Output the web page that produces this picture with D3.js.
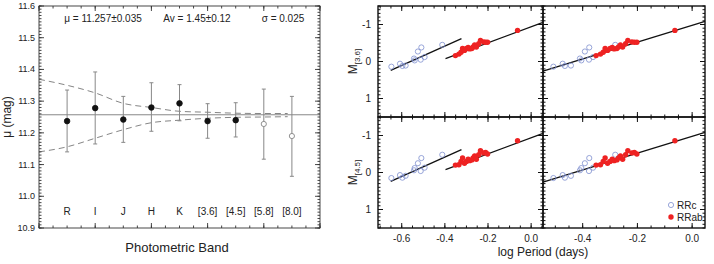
<!DOCTYPE html>
<html>
<head>
<meta charset="utf-8">
<script src="https://cdn.jsdelivr.net/npm/d3@7"></script>
<style>
  body { margin: 0; background: #fff; }
  text { font-family: "Liberation Sans", Arial, sans-serif; fill: #222; }
</style>
</head>
<body>
<div id="chart"></div>
<script>
// left panel: distance modulus per band
var bands = ["R", "I", "J", "H", "K", "[3.6]", "[4.5]", "[5.8]", "[8.0]"];
var muValues = [11.237, 11.278, 11.242, 11.280, 11.293, 11.237, 11.240, 11.228, 11.190];
var muLow = [11.140, 11.165, 11.170, 11.205, 11.238, 11.183, 11.187, 11.117, 11.063];
var muHigh = [11.335, 11.392, 11.315, 11.358, 11.352, 11.292, 11.295, 11.338, 11.315];
var muOpen = [false, false, false, false, false, false, false, true, true];
var muMean = 11.257;
var envX = [0, 1, 2, 3, 4, 5, 6, 7, 8, 8.85];
var envUpper = [11.369, 11.350, 11.326, 11.293, 11.280, 11.268, 11.265, 11.262, 11.261, 11.261];
var envLower = [11.140, 11.156, 11.183, 11.210, 11.232, 11.240, 11.246, 11.249, 11.250, 11.251];
var headerTexts = ["μ = 11.257±0.035", "Av = 1.45±0.12", "σ = 0.025"];

// right panels: PL relations
var rrcLogP = [-0.648, -0.608, -0.597, -0.582, -0.543, -0.540, -0.525, -0.509, -0.512, -0.494, -0.412];
var rrcLogPF = [-0.507, -0.473, -0.465, -0.443, -0.410, -0.405, -0.392, -0.376, -0.377, -0.362, -0.281];
var rrcM36 = [0.14, 0.06, 0.12, 0.11, -0.08, -0.03, -0.27, -0.38, -0.05, -0.12, -0.45];
var rrcM45 = [0.15, 0.07, 0.14, 0.09, -0.06, -0.12, -0.25, -0.39, -0.04, -0.13, -0.48];
var rrabLogP = [-0.351, -0.335, -0.325, -0.318, -0.309, -0.300, -0.292, -0.285, -0.275, -0.269,
                -0.262, -0.254, -0.243, -0.235, -0.220, -0.211, -0.202, -0.063];
var rrabM36 = [-0.16, -0.20, -0.25, -0.35, -0.30, -0.35, -0.38, -0.34, -0.35, -0.39,
               -0.45, -0.39, -0.48, -0.57, -0.53, -0.52, -0.52, -0.84];
var rrabM45 = [-0.20, -0.21, -0.30, -0.39, -0.25, -0.30, -0.36, -0.32, -0.34, -0.39,
               -0.45, -0.36, -0.48, -0.59, -0.53, -0.54, -0.50, -0.86];
// fits: M = a + b*logP over [from, to]
var fitRRc = { a: -1.47, b: -2.63, from: -0.651, to: -0.323 };
var fitRRab = { a: -0.94, b: -2.17, from: -0.397, to: 0.055 };
var fitAll = { a: -0.98, b: -2.27, from: -0.545, to: 0.047 };
var legendItems = ["RRc", "RRab"];

var W = 714, H = 264;
var svg = d3.select("#chart").append("svg").attr("width", W).attr("height", H);

function frameTicks(g, xs, ys, xMajor, xMinor, yMajor, yMinor, majLen, minLen) {
    var x0 = xs.range()[0], x1 = xs.range()[1];
    var y0 = ys.range()[0], y1 = ys.range()[1];
    var yt = Math.min(y0, y1), yb = Math.max(y0, y1);
    function tickSet(vals, len) {
        vals.forEach(function(v) {
            var px = xs(v);
            g.append("line").attr("x1", px).attr("x2", px).attr("y1", yb).attr("y2", yb - len);
            g.append("line").attr("x1", px).attr("x2", px).attr("y1", yt).attr("y2", yt + len);
        });
    }
    function tickSetY(vals, len) {
        vals.forEach(function(v) {
            var py = ys(v);
            g.append("line").attr("y1", py).attr("y2", py).attr("x1", x0).attr("x2", x0 + len);
            g.append("line").attr("y1", py).attr("y2", py).attr("x1", x1).attr("x2", x1 - len);
        });
    }
    tickSet(xMinor, minLen);
    tickSet(xMajor, majLen);
    tickSetY(yMinor, minLen);
    tickSetY(yMajor, majLen);
    g.append("rect").attr("x", x0).attr("y", yt).attr("width", x1 - x0).attr("height", yb - yt)
        .attr("fill", "none");
}

function steps(a, b, s) {
    var out = [];
    var n = Math.round((b - a) / s);
    for (var i = 0; i <= n; i++) out.push(+(a + i * s).toFixed(4));
    return out;
}

// ---------- left panel ----------
var xB = d3.scaleLinear().domain([0, 10]).range([39, 320]);
var yMu = d3.scaleLinear().domain([10.9, 11.6]).range([228, 6]);

var gl = svg.append("g");
gl.append("line").attr("x1", xB(0)).attr("x2", xB(10)).attr("y1", yMu(muMean)).attr("y2", yMu(muMean))
    .attr("stroke", "#888").attr("stroke-width", 1);

var envLine = d3.line().x(function(d) { return xB(d[0]); }).y(function(d) { return yMu(d[1]); })
    .curve(d3.curveMonotoneX);
[envUpper, envLower].forEach(function(arr) {
    gl.append("path").attr("d", envLine(envX.map(function(x, i) { return [x, arr[i]]; })))
        .attr("fill", "none").attr("stroke", "#777").attr("stroke-width", 0.9)
        .attr("stroke-dasharray", "6,4");
});

var eb = gl.append("g").attr("stroke", "#888").attr("stroke-width", 1);
bands.forEach(function(b, i) {
    var px = xB(i + 1);
    eb.append("line").attr("x1", px).attr("x2", px).attr("y1", yMu(muLow[i])).attr("y2", yMu(muHigh[i]));
    eb.append("line").attr("x1", px - 2).attr("x2", px + 2).attr("y1", yMu(muLow[i])).attr("y2", yMu(muLow[i]));
    eb.append("line").attr("x1", px - 2).attr("x2", px + 2).attr("y1", yMu(muHigh[i])).attr("y2", yMu(muHigh[i]));
});
gl.selectAll("circle.mu").data(muValues).enter().append("circle")
    .attr("cx", function(d, i) { return xB(i + 1); })
    .attr("cy", function(d) { return yMu(d); })
    .attr("r", function(d, i) { return muOpen[i] ? 2.6 : 2.8; })
    .attr("fill", function(d, i) { return muOpen[i] ? "#fff" : "#111"; })
    .attr("stroke", function(d, i) { return muOpen[i] ? "#777" : "#111"; })
    .attr("stroke-width", 0.8);

var gf = gl.append("g").attr("stroke", "#333").attr("stroke-width", 0.9);
frameTicks(gf, xB, yMu, steps(0, 10, 2), steps(0, 10, 0.5), steps(10.9, 11.6, 0.1), steps(10.9, 11.6, 0.01), 5, 2.5);

gl.selectAll("text.yl").data(steps(10.9, 11.6, 0.1)).enter().append("text")
    .attr("x", 35).attr("y", function(d) { return yMu(d) + 3; })
    .attr("text-anchor", "end").attr("font-size", 9)
    .text(function(d) { return d.toFixed(1); });

gl.selectAll("text.band").data(bands).enter().append("text")
    .attr("x", function(d, i) { return xB(i + 1); }).attr("y", 215)
    .attr("text-anchor", "middle").attr("font-size", 10)
    .text(function(d) { return d; });

var headerX = [103, 197, 283];
gl.selectAll("text.hdr").data(headerTexts).enter().append("text")
    .attr("x", function(d, i) { return headerX[i]; }).attr("y", 22)
    .attr("text-anchor", "middle").attr("font-size", 10)
    .text(function(d) { return d; });

gl.append("text").attr("transform", "translate(11," + yMu(11.25) + ") rotate(-90)")
    .attr("text-anchor", "middle").attr("font-size", 12).text("μ (mag)");
gl.append("text").attr("x", 177).attr("y", 252).attr("text-anchor", "middle")
    .attr("font-size", 13).text("Photometric Band");

// ---------- right panels ----------
var cols = [
    { x: d3.scaleLinear().domain([-0.71, 0.055]).range([378, 543]), rrcP: rrcLogP, fits: [fitRRc, fitRRab],
      ticks: [-0.6, -0.4, -0.2, 0.0] },
    { x: d3.scaleLinear().domain([-0.545, 0.047]).range([543, 705]), rrcP: rrcLogPF, fits: [fitAll],
      ticks: [-0.4, -0.2, 0.0] }
];
var rows = [
    { y: d3.scaleLinear().domain([-1.5, 1.5]).range([6, 117]), rrcM: rrcM36, rrabM: rrabM36, label: "[3.6]" },
    { y: d3.scaleLinear().domain([-1.5, 1.5]).range([117, 228]), rrcM: rrcM45, rrabM: rrabM45, label: "[4.5]" }
];

rows.forEach(function(row, ri) {
    cols.forEach(function(col, ci) {
        var g = svg.append("g");
        var xs = col.x, ys = row.y;
        var d0 = xs.domain();
        col.fits.forEach(function(f) {
            g.append("line")
                .attr("x1", xs(f.from)).attr("y1", ys(f.a + f.b * f.from))
                .attr("x2", xs(f.to)).attr("y2", ys(f.a + f.b * f.to))
                .attr("stroke", "#111").attr("stroke-width", 1.3);
        });
        g.selectAll("circle.rrc").data(row.rrcM).enter().append("circle")
            .attr("cx", function(d, i) { return xs(col.rrcP[i]); })
            .attr("cy", function(d) { return ys(d); })
            .attr("r", 2.6).attr("fill", "none").attr("stroke", "#7f8fcf").attr("stroke-width", 0.8);
        g.selectAll("circle.rrab").data(row.rrabM).enter().append("circle")
            .attr("cx", function(d, i) { return xs(rrabLogP[i]); })
            .attr("cy", function(d) { return ys(d); })
            .attr("r", 2.7).attr("fill", "#ee2222");

        var tg = g.append("g").attr("stroke", "#111").attr("stroke-width", 1);
        var minorX = steps(-0.7, 0.05, 0.05).filter(function(v) { return v >= d0[0] && v <= d0[1]; });
        var majorX = steps(-0.6, 0.0, 0.2).filter(function(v) { return v >= d0[0] && v <= d0[1]; });
        frameTicks(tg, xs, ys, majorX, minorX, [-1, 0, 1], steps(-1.5, 1.5, 0.1), 5, 2.5);
        tg.select("rect").attr("stroke-width", 1.4);

        if (ci === 0) {
            g.selectAll("text.yl").data([-1, 0, 1]).enter().append("text")
                .attr("x", 371).attr("y", function(d) { return ys(d) + 3.5; })
                .attr("text-anchor", "end").attr("font-size", 10)
                .text(function(d) { return d; });
            var lab = g.append("text")
                .attr("transform", "translate(357," + ys(0) + ") rotate(-90)")
                .attr("text-anchor", "middle").attr("font-size", 12);
            lab.append("tspan").text("M");
            lab.append("tspan").attr("font-size", 8).attr("dy", 3).text(row.label);
        }
        if (ri === 1) {
            g.selectAll("text.xl").data(col.ticks).enter().append("text")
                .attr("x", function(d) { return xs(d); }).attr("y", 242)
                .attr("text-anchor", "middle").attr("font-size", 10)
                .text(function(d) { return d.toFixed(1).replace("-0.0", "0.0"); });
        }
        if (ri === 1 && ci === 1) {
            var lg = g.append("g");
            legendItems.forEach(function(name, k) {
                var ly = 205 + k * 12;
                if (k === 0) {
                    lg.append("circle").attr("cx", 671).attr("cy", ly).attr("r", 2.6)
                        .attr("fill", "none").attr("stroke", "#7f8fcf").attr("stroke-width", 0.8);
                } else {
                    lg.append("circle").attr("cx", 671).attr("cy", ly).attr("r", 2.7).attr("fill", "#ee2222");
                }
                lg.append("text").attr("x", 677).attr("y", ly + 3.5).attr("font-size", 10).text(name);
            });
        }
    });
});

svg.append("text").attr("x", 543).attr("y", 256).attr("text-anchor", "middle")
    .attr("font-size", 12).text("log Period (days)");
</script>
</body>
</html>
